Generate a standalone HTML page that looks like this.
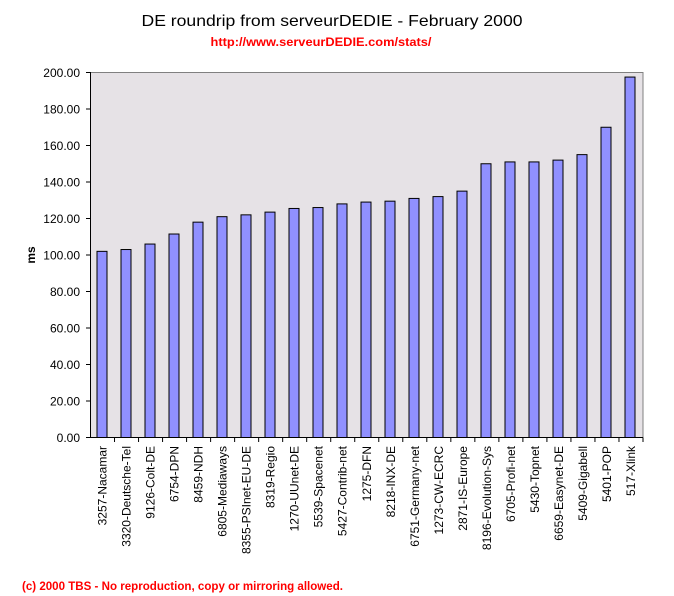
<!DOCTYPE html>
<html><head><style>body{margin:0;background:#fff}svg{display:block}</style></head><body>
<svg width="674" height="596" xmlns="http://www.w3.org/2000/svg" font-family="Liberation Sans, Arial, sans-serif">
<text x="332" y="26" font-size="16" text-anchor="middle" textLength="381" lengthAdjust="spacingAndGlyphs">DE roundrip from serveurDEDIE - February 2000</text>
<text x="321" y="46" font-size="12" font-weight="bold" fill="#ff0000" text-anchor="middle" textLength="221" lengthAdjust="spacingAndGlyphs">http://www.serveurDEDIE.com/stats/</text>
<rect x="90.5" y="72.5" width="552.5" height="365" fill="#e6e2e6" stroke="#808080"/>
<line x1="90.5" y1="72" x2="90.5" y2="438" stroke="#000"/>
<line x1="90" y1="437.5" x2="643" y2="437.5" stroke="#000"/>
<g id="bars" fill="#9090ff" stroke="#000" stroke-width="1"></g>
<g id="yt" font-size="12" text-anchor="end"></g>
<g id="xt" font-size="12"></g>
<text transform="translate(35,255) rotate(-90)" font-size="12" font-weight="bold" text-anchor="middle">ms</text>
<text x="22" y="590" font-size="12" font-weight="bold" fill="#ff0000" textLength="321" lengthAdjust="spacingAndGlyphs">(c) 2000 TBS - No reproduction, copy or mirroring allowed.</text>
</svg>
<script>
var ns="http://www.w3.org/2000/svg";
function el(t,a,p,tx){var e=document.createElementNS(ns,t);for(var k in a)e.setAttribute(k,a[k]);if(tx)e.textContent=tx;p.appendChild(e);return e;}
var vals=[102,103,106,111.5,118,121,122,123.5,125.5,126,128,129,129.5,131,132,135,150,151,151,152,155,170,197.5];
var names=["3257-Nacamar","3320-Deutsche-Tel","9126-Colt-DE","6754-DPN","8459-NDH","6805-Mediaways","8355-PSInet-EU-DE","8319-Regio","1270-UUnet-DE","5539-Spacenet","5427-Contrib-net","1275-DFN","8218-INX-DE","6751-Germany-net","1273-CW-ECRC","2871-IS-Europe","8196-Evolution-Sys","6705-Profi-net","5430-Topnet","6659-Easynet-DE","5409-Gigabell","5401-POP","517-Xlink"];
var b=document.getElementById("bars"),yt=document.getElementById("yt"),xt=document.getElementById("xt"),svg=document.querySelector("svg");
var cw=552.5/23,sc=365/200;
for(var i=0;i<23;i++){var c=90.5+cw*i+cw/2;var h=vals[i]*sc;
el("rect",{x:(Math.round(c)-6),y:437.5-h,width:10,height:h},b);
el("line",{x1:90.5+cw*(i+1),y1:437.5,x2:90.5+cw*(i+1),y2:442,stroke:"#000"},svg);
el("text",{transform:"translate("+(c+4)+",446) rotate(-90)","text-anchor":"end"},xt,names[i]);}
for(var v=0;v<=200;v+=20){var y=437.5-v*sc;
el("line",{x1:86,y1:y,x2:91,y2:y,stroke:"#000"},svg);
el("text",{x:80,y:y+4.5},yt,v.toFixed(2));}
</script>
</body></html>
